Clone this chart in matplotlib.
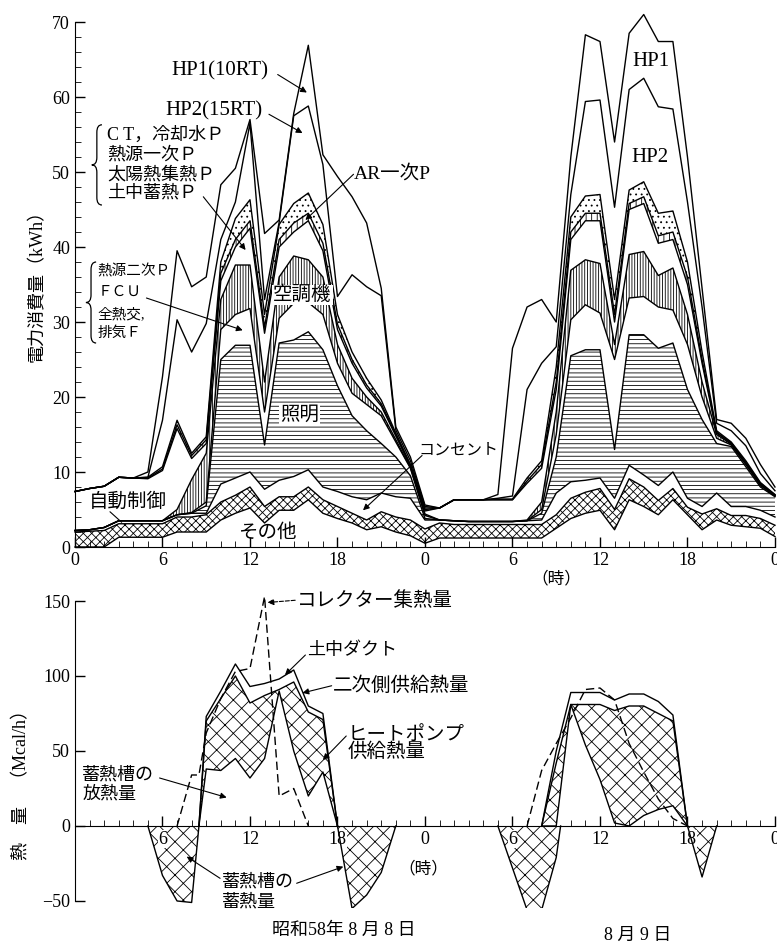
import numpy as np
import matplotlib
matplotlib.use("Agg")
import matplotlib.pyplot as plt
from matplotlib.path import Path
from matplotlib.patches import PathPatch

plt.rcParams['font.family'] = ['Liberation Serif', 'Noto Sans CJK JP']
plt.rcParams['hatch.linewidth'] = 0.6

## top chart: hourly electricity use, 8/8 0h .. 8/9 24h (48 h)
hours = np.arange(49)
hour_labels = ['0', '6', '12', '18', '0', '6', '12', '18', '0']

# cumulative tops of the stacked categories (kWh), read bottom -> top
top_sonota = [0, 0, 0, 1.3, 1.3, 1.3, 1.3, 2, 2, 2, 3.6, 4.5, 5.2, 3.2, 4.9, 4.9, 6.3, 4.5, 3.8, 3.2, 2.3, 2.7, 2.0, 1.5, 0.5,
              1.2, 1.2, 1.2, 1.2, 1.2, 1.2, 1.2, 1.2, 2.5, 3.8, 4.5, 4.9, 2.3, 6.3, 5.4, 4.3, 6.3, 4.3, 2.3, 3.6, 2.9, 2.7, 2.5, 1.4]
top_jidou = [2.0, 2.1, 2.2, 3.1, 3.1, 3.1, 3.1, 4.0, 4.0, 4.3, 6.0, 6.9, 8.0, 5.4, 6.7, 6.7, 8.0, 6.3, 5.4, 4.5, 3.6, 4.7, 4.0, 3.6, 2.4,
             3.2, 3.0, 3.0, 3.0, 3.0, 3.0, 3.0, 3.0, 4.3, 6.5, 7.3, 7.8, 5.0, 9.1, 8.0, 6.2, 7.8, 5.3, 4.4, 5.1, 4.2, 4.2, 3.8, 2.9]
top_consent = [2.2, 2.3, 2.6, 3.5, 3.5, 3.5, 3.5, 4.3, 4.5, 4.5, 8.4, 9.2, 10.0, 7.7, 8.9, 9.4, 10.3, 8.0, 7.4, 6.7, 6.3, 7.2, 6.7, 6.5, 3.6,
               3.6, 3.5, 3.4, 3.4, 3.4, 3.4, 3.5, 3.6, 7.2, 8.7, 8.9, 9.2, 6.5, 10.9, 9.6, 8.2, 10.0, 6.5, 5.4, 7.2, 5.4, 5.4, 4.9, 4.0]
top_light = [2.2, 2.3, 2.6, 3.5, 3.5, 3.5, 3.5, 4.3, 4.5, 5.5, 25.0, 26.9, 26.9, 13.6, 27.2, 27.6, 28.7, 26.3, 21.5, 17.5, 15.5, 13.8, 12.0, 9.5, 3.8,
             3.6, 3.5, 3.4, 3.4, 3.4, 3.4, 3.5, 4.5, 12.0, 25.5, 26.3, 26.3, 13.0, 28.3, 28.3, 26.5, 27.2, 21.0, 17.0, 13.8, 13.4, 10.7, 8.0, 6.7]
top_fcu = [2.2, 2.3, 2.6, 3.5, 3.5, 3.5, 3.5, 4.3, 4.6, 6.0, 29.0, 31.0, 31.8, 18.0, 30.5, 32.5, 32.6, 31.0, 24.5, 20.5, 19.0, 17.5, 14.0, 10.5, 4.2,
           3.6, 3.5, 3.4, 3.4, 3.4, 3.4, 3.5, 5.0, 15.0, 30.3, 32.3, 31.2, 25.0, 33.2, 33.4, 32.0, 31.6, 27.0, 20.0, 14.5, 13.6, 11.0, 8.2, 6.8]
top_aircon = [2.2, 2.3, 2.6, 3.5, 3.5, 3.5, 3.5, 5.0, 9.0, 12.5, 33.0, 37.6, 37.6, 22.0, 36.0, 38.8, 38.3, 36.0, 27.0, 22.5, 20.0, 18.0, 14.3, 10.6, 4.4,
              3.6, 3.5, 3.4, 3.4, 3.4, 3.4, 3.6, 6.0, 18.0, 36.9, 38.3, 37.8, 27.0, 39.0, 39.4, 36.2, 37.2, 31.0, 22.0, 15.0, 13.7, 11.1, 8.3, 6.85]
top_ct = [7.4, 7.8, 8.1, 9.3, 9.2, 9.1, 10.2, 15.8, 11.8, 13.8, 35.5, 40.0, 42.5, 28.5, 40.0, 42.0, 43.5, 39.5, 29.0, 24.5, 21.2, 18.8, 14.8, 10.8, 4.8,
          5.2, 6.3, 6.3, 6.3, 6.3, 6.3, 8.5, 10.5, 21.0, 41.0, 43.5, 43.5, 30.0, 45.0, 45.8, 40.5, 41.0, 35.0, 24.5, 15.2, 13.8, 11.2, 8.4, 6.9]
top_pump = [7.4, 7.8, 8.1, 9.3, 9.2, 9.2, 10.4, 16.3, 12.2, 14.3, 36.5, 41.0, 43.5, 29.3, 41.0, 43.2, 44.5, 40.5, 29.7, 25.0, 21.6, 19.1, 15.0, 10.9, 5.0,
            5.2, 6.3, 6.3, 6.3, 6.3, 6.3, 8.8, 11.0, 22.0, 42.0, 44.5, 44.5, 31.0, 45.8, 46.7, 41.5, 42.0, 36.0, 25.0, 15.3, 13.9, 11.3, 8.5, 6.95]
top_ar = [7.4, 7.8, 8.1, 9.3, 9.2, 9.3, 10.7, 16.9, 12.5, 14.7, 38.0, 43.8, 46.3, 31.0, 43.0, 45.8, 47.2, 43.0, 31.0, 26.0, 22.5, 19.6, 15.2, 11.0, 5.2,
          5.2, 6.3, 6.3, 6.3, 6.4, 6.4, 9.2, 11.5, 24.0, 44.0, 46.8, 47.0, 33.0, 47.6, 48.7, 44.5, 44.8, 38.0, 26.0, 15.5, 14.0, 11.5, 8.6, 7.0]
top_hp2 = [7.4, 7.8, 8.1, 9.3, 9.2, 9.3, 16.9, 30.3, 26.0, 29.8, 41.0, 46.0, 56.5, 33.0, 43.3, 57.5, 58.8, 51.0, 33.4, 36.3, 34.7, 33.5, 15.6, 11.5, 5.4,
           5.2, 6.3, 6.3, 6.3, 6.5, 6.8, 21.0, 24.5, 26.7, 47.0, 59.4, 59.6, 45.3, 61.0, 62.5, 58.7, 58.4, 46.0, 32.0, 16.5, 15.5, 13.5, 9.8, 7.5]
top_hp1 = [7.4, 7.8, 8.1, 9.3, 9.2, 10.0, 22.7, 39.5, 34.7, 36.0, 48.3, 50.5, 57.0, 41.8, 43.6, 57.8, 66.9, 52.3, 49.4, 46.7, 43.2, 34.5, 16.0, 12.0, 5.6,
           5.2, 6.3, 6.3, 6.3, 7.0, 26.5, 32.0, 33.0, 30.0, 52.0, 68.3, 67.4, 54.0, 68.5, 71.0, 67.4, 67.4, 52.0, 34.5, 17.0, 16.5, 14.5, 11.0, 8.0]

## bottom chart: heat (Mcal/h)
day1_hours = [8.5, 9, 10, 11, 12, 13, 14, 15, 16, 17, 18]
duct_1 = [0, 73, 90, 108, 93, 95, 98, 104, 80, 75, 0]
supply_1 = [0, 70, 85, 100, 82, 87, 91, 96, 76, 71, 0]
heatpump_1 = [0, 38, 37, 45, 32, 45, 90, 50, 20, 36, 0]

day2_hours = [32, 33, 34, 35, 36, 37, 38, 39, 40, 41, 42]
duct_2 = [0, 50, 89, 89, 89, 84, 88, 88, 83, 74, 0]
supply_2 = [0, 42, 81, 81, 81, 77, 80, 80, 75, 70, 0]
heatpump_2 = [0, 0, 81, 54, 31, 2, 0, 7, 11, 13.5, 0]

collector_1_h = [7, 8, 8.5, 9, 10, 11, 12, 13, 14, 15, 16]
collector_1 = [0, 34, 34, 62, 85, 103, 105, 153, 20, 25, 0]
collector_2_h = [31, 32, 33, 34, 35, 36, 37, 38, 39, 40, 41, 42]
collector_2 = [0, 37, 55, 72, 91, 92, 84, 55, 36, 18, 5, 0]

# storage tank charging (negative)
charge_a_h = [5, 6, 7, 8, 8.5]
charge_a = [0, -33, -50, -51, 0]
charge_b_h = [18, 19, 20, 21, 22]
charge_b = [0, -55, -46, -31, 0]
charge_c_h = [29, 30, 31, 32, 33, 33.3]
charge_c = [0, -28, -56, -56, -21, 0]
charge_d_h = [42, 43, 44]
charge_d = [0, -34, 0]


def brace(ax, x, y0, y1, w, d):
    ym = (y0 + y1) / 2
    verts = [(x + w, y1), (x, y1), (x, y1 - d), (x, ym + d), (x, ym), (x - w, ym),
             (x, ym), (x, ym - d), (x, y0 + d), (x, y0), (x + w, y0)]
    codes = [Path.MOVETO, Path.CURVE3, Path.CURVE3, Path.LINETO, Path.CURVE3, Path.CURVE3,
             Path.CURVE3, Path.CURVE3, Path.LINETO, Path.CURVE3, Path.CURVE3]
    ax.add_patch(PathPatch(Path(verts, codes), fill=False, lw=0.9, clip_on=False))


def arrow(ax, tip, start, style='-|>', ls='-'):
    ax.annotate('', xy=tip, xytext=start,
                arrowprops=dict(arrowstyle=style, color='black', lw=0.8, ls=ls,
                                mutation_scale=9, shrinkA=0, shrinkB=0))


fig = plt.figure(figsize=(7.77, 9.49), dpi=100)
ax1 = fig.add_axes([0.0965, 0.4236, 0.9009, 0.569])
ax2 = fig.add_axes([0.0965, 0.0427, 0.9009, 0.3398])

# ---- top: stacked bands
bands = [(top_sonota, top_jidou, 'xxxx'),
         (top_consent, top_light, '----'),
         (top_fcu, top_aircon, '||||||'),
         (top_ct, top_pump, '|||'),
         (top_pump, top_ar, '...')]
for lo, hi, hatch in bands:
    ax1.fill_between(hours, lo, hi, facecolor='white', edgecolor='black', hatch=hatch,
                     linewidth=0, clip_on=False)
for lvl in [top_sonota, top_jidou, top_consent, top_light, top_fcu, top_aircon,
            top_ct, top_pump, top_ar, top_hp2, top_hp1]:
    ax1.plot(hours, lvl, color='black', lw=1.0, clip_on=False)

ax1.set_xlim(0, 48)
ax1.set_ylim(0, 72)
ax1.spines['left'].set_bounds(0, 70)
for s in ['top', 'right']:
    ax1.spines[s].set_visible(False)
ax1.set_xticks(range(0, 49, 6))
ax1.set_xticklabels(hour_labels)
ax1.set_xticks(range(49), minor=True)
ax1.set_yticks(range(0, 71, 10))
ax1.set_yticks(range(0, 71, 2), minor=True)
ax1.tick_params(direction='in', length=7, width=1, labelsize=13)
ax1.tick_params(which='minor', direction='in', length=4)

# top labels
ax1.text(9.95, 63.5, 'HP1(10RT)', fontsize=15, ha='center', va='center')
arrow(ax1, (15.9, 60.6), (13.9, 63.0))
ax1.text(9.5, 58.1, 'HP2(15RT)', fontsize=15, ha='center', va='center')
arrow(ax1, (15.6, 55.2), (13.3, 57.7))
brace(ax1, 1.5, 45.6, 56.3, 0.35, 1.0)
for txt, y in zip(['C T，冷却水Ｐ', '熱源一次Ｐ', '太陽熱集熱Ｐ', '土中蓄熱Ｐ'], [54.9, 52.3, 49.6, 47.2]):
    ax1.text(2.2, y, txt, fontsize=13, ha='left', va='center')
arrow(ax1, (11.7, 39.6), (8.8, 46.7))
brace(ax1, 1.1, 27.2, 38.0, 0.35, 1.0)
for txt, y in zip(['熱源二次Ｐ', 'ＦＣＵ', '全熱交,', '排気Ｆ'], [36.7, 34.0, 31.1, 28.5]):
    ax1.text(1.55, y, txt, fontsize=10.5, ha='left', va='center')
arrow(ax1, (11.5, 28.9), (4.9, 33.2))
ax1.text(19.1, 49.8, 'AR一次P', fontsize=14, ha='left', va='center')
arrow(ax1, (15.8, 43.6), (19.1, 49.7))
ax1.text(39.5, 64.7, 'HP1', fontsize=15, ha='center', va='center')
ax1.text(39.4, 52.0, 'HP2', fontsize=15, ha='center', va='center')
ax1.text(15.6, 33.6, '空調機', fontsize=14, ha='center', va='center', zorder=5,
         bbox=dict(facecolor='white', edgecolor='none', pad=0.5))
ax1.text(15.4, 17.6, '照明', fontsize=14, ha='center', va='center', zorder=5,
         bbox=dict(facecolor='white', edgecolor='none', pad=0.5))
ax1.text(26.3, 12.8, 'コンセント', fontsize=11.5, ha='center', va='center')
arrow(ax1, (19.75, 4.9), (23.8, 12.2))
ax1.text(3.6, 6.0, '自動制御', fontsize=14, ha='center', va='center')
arrow(ax1, (3.2, 3.3), (2.4, 4.7), style='-')
ax1.text(13.2, 1.9, 'その他', fontsize=14, ha='center', va='center')
ax1.text(33.0, -4.3, '（時）', fontsize=12, ha='center', va='center', clip_on=False)

# ---- bottom: heat
for xs, ys in [(charge_a_h, charge_a), (charge_b_h, charge_b), (charge_c_h, charge_c), (charge_d_h, charge_d)]:
    ax2.fill_between(xs, 0, ys, facecolor='white', edgecolor='black', hatch='xx', linewidth=0)
    ax2.plot(xs, ys, color='black', lw=1.0)
for xs, hp, sup, duct in [(day1_hours, heatpump_1, supply_1, duct_1),
                          (day2_hours, heatpump_2, supply_2, duct_2)]:
    ax2.fill_between(xs, hp, sup, where=np.array(sup) >= np.array(hp), interpolate=True,
                     facecolor='white', edgecolor='black', hatch='xx', linewidth=0)
    ax2.plot(xs, hp, color='black', lw=1.0)
    ax2.plot(xs, sup, color='black', lw=1.0)
    ax2.plot(xs, duct, color='black', lw=1.0)
ax2.plot(collector_1_h, collector_1, color='black', lw=1.0, ls=(0, (6, 3)), clip_on=False)
ax2.plot(collector_2_h, collector_2, color='black', lw=1.0, ls=(0, (6, 3)))

ax2.set_xlim(0, 48)
ax2.set_ylim(-55, 160)
ax2.spines['bottom'].set_position(('data', 0))
ax2.spines['left'].set_bounds(-50, 150)
for s in ['top', 'right']:
    ax2.spines[s].set_visible(False)
ax2.set_xticks(range(6, 49, 6))
ax2.set_xticklabels(hour_labels[1:])
ax2.set_xticks(range(49), minor=True)
ax2.set_yticks([-50, 0, 50, 100, 150])
ax2.set_yticklabels(['−50', '0', '50', '100', '150'])
ax2.tick_params(direction='in', length=7, width=1, labelsize=13)
ax2.tick_params(which='minor', direction='in', length=4)
for lbl in ax2.get_xticklabels():
    lbl.set_bbox(dict(facecolor='white', edgecolor='none', pad=0.3))

ax2.text(15.2, 150, 'コレクター集熱量', fontsize=14, ha='left', va='center')
arrow(ax2, (13.2, 149), (15.1, 150.5), ls='--')
ax2.text(15.9, 116.7, '土中ダクト', fontsize=13, ha='left', va='center')
arrow(ax2, (14.4, 100.7), (15.8, 114))
ax2.text(17.7, 93.3, '二次側供給熱量', fontsize=14, ha='left', va='center')
arrow(ax2, (15.6, 88.7), (17.6, 93.5))
ax2.text(18.7, 60.7, 'ヒートポンプ', fontsize=14, ha='left', va='center')
ax2.text(18.7, 49.3, '供給熱量', fontsize=14, ha='left', va='center')
arrow(ax2, (17.0, 44), (18.6, 60))
ax2.text(0.5, 34, '蓄熱槽の', fontsize=13, ha='left', va='center')
ax2.text(0.5, 21, '放熱量', fontsize=13, ha='left', va='center')
arrow(ax2, (10.4, 19), (5.8, 32))
ax2.text(10.1, -37.5, '蓄熱槽の', fontsize=13, ha='left', va='center')
ax2.text(10.1, -50.5, '蓄熱量', fontsize=13, ha='left', va='center')
arrow(ax2, (7.66, -20.4), (9.95, -34.9))
arrow(ax2, (18.4, -27.1), (15.2, -38.2))
ax2.text(23.9, -29, '（時）', fontsize=12, ha='center', va='center')

fig.text(0.0476, 0.703, '電力消費量（kWh）', rotation=90, fontsize=13, ha='center', va='center')
fig.text(0.028, 0.178, '熱　量　（Mcal/h）', rotation=90, fontsize=13, ha='center', va='center')
fig.text(0.4427, 0.020, '昭和58年 8 月 8 日', fontsize=13, ha='center', va='center')
fig.text(0.821, 0.0148, '8 月 9 日', fontsize=13, ha='center', va='center')

fig.savefig('out.png', dpi=100)
